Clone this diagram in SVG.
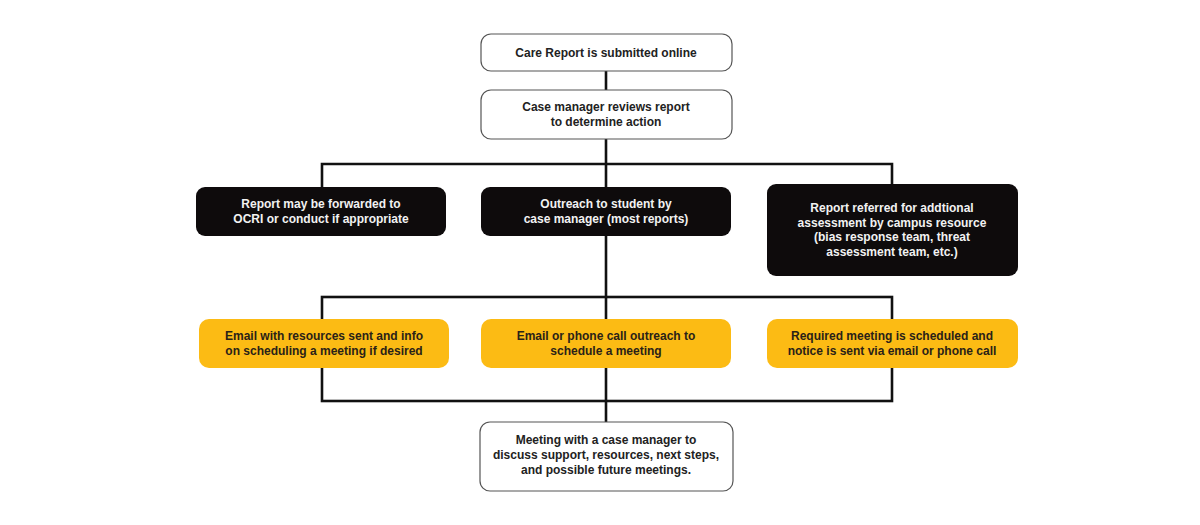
<svg xmlns="http://www.w3.org/2000/svg" width="1200" height="525" viewBox="0 0 1200 525">
<style>
.w{fill:#fff;stroke:#555;stroke-width:1.2}
.b{fill:#0e0b0c}
.y{fill:#fcbb14}
.c{fill:none;stroke:#111;stroke-width:2.6}
text{font-family:"Liberation Sans",Arial,sans-serif;font-weight:bold;font-size:12px;text-anchor:middle}
.tw{fill:#f2f2f2}
.td{fill:#2a2218}
.tk{fill:#222}
</style>
<rect width="1200" height="525" fill="#fff"/>
<g id="connectors">
<line class="c" x1="606" y1="71" x2="606" y2="90"/>
<line class="c" x1="606" y1="139" x2="606" y2="187"/>
<polyline class="c" points="322,187 322,164 892,164 892,185"/>
<line class="c" x1="606" y1="236" x2="606" y2="319"/>
<rect class="c" x="322" y="297" width="570" height="104"/>
<line class="c" x1="606" y1="368" x2="606" y2="422"/>
</g>
<g id="n1"><rect class="w" x="481" y="34" width="251" height="37" rx="10"/><text class="tk" x="606" y="56.5">Care Report is submitted online</text></g>
<g id="n2"><rect class="w" x="481" y="90" width="251" height="49" rx="10"/><text class="tk" x="606" y="111">Case manager reviews report</text><text class="tk" x="606" y="125.5">to determine action</text></g>
<g id="n3"><rect class="b" x="196" y="187" width="250" height="49" rx="9"/><text class="tw" x="321" y="208">Report may be forwarded to</text><text class="tw" x="321" y="222.5">OCRI or conduct if appropriate</text></g>
<g id="n4"><rect class="b" x="481" y="187" width="250" height="49" rx="9"/><text class="tw" x="606" y="208">Outreach to student by</text><text class="tw" x="606" y="222.5">case manager (most reports)</text></g>
<g id="n5"><rect class="b" x="767" y="184" width="251" height="92" rx="9"/><text class="tw" x="892" y="212">Report referred for addtional</text><text class="tw" x="892" y="226.5">assessment by campus resource</text><text class="tw" x="892" y="241">(bias response team, threat</text><text class="tw" x="892" y="255.5">assessment team, etc.)</text></g>
<g id="n6"><rect class="y" x="199" y="319" width="250" height="49" rx="10"/><text class="td" x="324" y="340">Email with resources sent and info</text><text class="td" x="324" y="354.5">on scheduling a meeting if desired</text></g>
<g id="n7"><rect class="y" x="481" y="319" width="250" height="49" rx="10"/><text class="td" x="606" y="340">Email or phone call outreach to</text><text class="td" x="606" y="354.5">schedule a meeting</text></g>
<g id="n8"><rect class="y" x="767" y="319" width="251" height="49" rx="10"/><text class="td" x="892" y="340">Required meeting is scheduled and</text><text class="td" x="892" y="354.5">notice is sent via email or phone call</text></g>
<g id="n9"><rect class="w" x="480" y="422" width="253" height="69" rx="10"/><text class="tk" x="606" y="444">Meeting with a case manager to</text><text class="tk" x="606" y="459">discuss support, resources, next steps,</text><text class="tk" x="606" y="474">and possible future meetings.</text></g>
</svg>
